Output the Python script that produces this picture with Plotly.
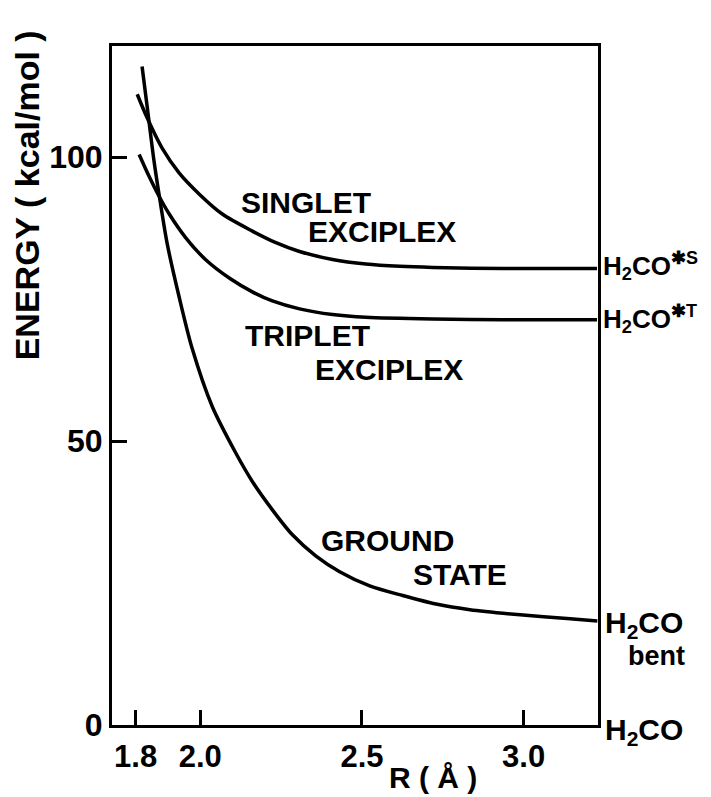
import plotly.graph_objects as go

# Data (R in Å, energy in kcal/mol)
ground_r = [1.820, 1.836, 1.857, 1.876, 1.898, 1.935, 1.975, 2.037, 2.109, 2.161, 2.223,
            2.285, 2.357, 2.431, 2.524, 2.626, 2.729, 2.834, 2.989, 3.144, 3.228]
ground_e = [116.0, 108.8, 99.3, 92.2, 84.7, 75.3, 66.3, 56.1, 48.0, 42.9, 37.9,
            33.5, 29.8, 27.0, 24.5, 22.8, 21.3, 20.3, 19.4, 18.7, 18.3]

singlet_r = [1.805, 1.836, 1.882, 1.935, 1.997, 2.068, 2.161, 2.232, 2.307, 2.409,
             2.512, 2.617, 2.719, 2.936, 3.227]
singlet_e = [111.1, 106.9, 101.6, 97.2, 93.5, 90.0, 87.0, 85.0, 83.4, 82.0,
             81.2, 80.8, 80.6, 80.4, 80.4]

triplet_r = [1.811, 1.842, 1.870, 1.904, 1.954, 2.016, 2.093, 2.161, 2.223, 2.307,
             2.409, 2.512, 2.719, 2.936, 3.227]
triplet_e = [100.5, 96.6, 93.4, 90.0, 85.9, 82.0, 78.6, 76.3, 74.7, 73.3,
             72.3, 71.8, 71.5, 71.4, 71.4]

x_ticks = [1.8, 2.0, 2.5, 3.0]
y_ticks = [0, 50, 100]

FONT = "Liberation Sans"
line = dict(color="black", width=3.5, shape="spline", smoothing=0.8)

fig = go.Figure()
for r, e, name in [(ground_r, ground_e, "Ground state"),
                   (singlet_r, singlet_e, "Singlet exciplex"),
                   (triplet_r, triplet_e, "Triplet exciplex")]:
    fig.add_trace(go.Scatter(x=r, y=e, mode="lines", line=line, name=name,
                             showlegend=False, hoverinfo="skip"))

# The page body adds a small offset, so the figure is slightly smaller than the window
fig.update_layout(
    width=705, height=791,
    margin=dict(l=104, r=115, t=38, b=74, autoexpand=False),
    paper_bgcolor="white", plot_bgcolor="white",
    font=dict(family=FONT, color="black", size=30, weight="bold"),
    showlegend=False,
)
fig.update_xaxes(range=[1.727, 3.230], tickvals=x_ticks, tickformat=".1f",
                 ticks="inside", ticklen=15, tickwidth=3, tickcolor="black",
                 showline=True, linewidth=3, linecolor="black", mirror=True,
                 showgrid=False, zeroline=False, automargin=False,
                 ticklabelstandoff=2,
                 tickfont=dict(family=FONT, size=31, weight="bold"))
fig.update_yaxes(range=[0, 119.6], tickvals=y_ticks,
                 ticks="inside", ticklen=15, tickwidth=3, tickcolor="black",
                 showline=True, linewidth=3, linecolor="black", mirror=True,
                 showgrid=False, zeroline=False, automargin=False,
                 tickfont=dict(family=FONT, size=32, weight="bold"))

def ann(text, x, y, size=30, xanchor="center", angle=0):
    fig.add_annotation(text=text, x=x, y=y, xref="paper", yref="paper",
                       showarrow=False, xanchor=xanchor, yanchor="middle",
                       textangle=angle,
                       font=dict(family=FONT, size=size, color="black", weight="bold"))

ann("SINGLET", 0.400, 0.770)
ann("EXCIPLEX", 0.555, 0.727)
ann("TRIPLET", 0.402, 0.574)
ann("EXCIPLEX", 0.569, 0.524)
ann("GROUND", 0.567, 0.272)
ann("STATE", 0.716, 0.222)

sup_s = "<sup><span style='font-size:18px'>✱S</span></sup>"
sup_t = "<sup><span style='font-size:18px'>✱T</span></sup>"
ann("H<sub>2</sub>CO" + sup_s, 1.006, 0.676, size=26, xanchor="left")
ann("H<sub>2</sub>CO" + sup_t, 1.006, 0.598, size=26, xanchor="left")
ann("H<sub>2</sub>CO", 1.010, 0.148, size=30, xanchor="left")
ann("bent", 1.058, 0.101, size=27, xanchor="left")
ann("H<sub>2</sub>CO", 1.010, -0.010, size=30, xanchor="left")

ann("ENERGY ( kcal/mol )", -0.175, 0.78, size=34, angle=-90)
ann("R ( Å )", 0.66, -0.077, size=30)

fig.write_html("out.html")
